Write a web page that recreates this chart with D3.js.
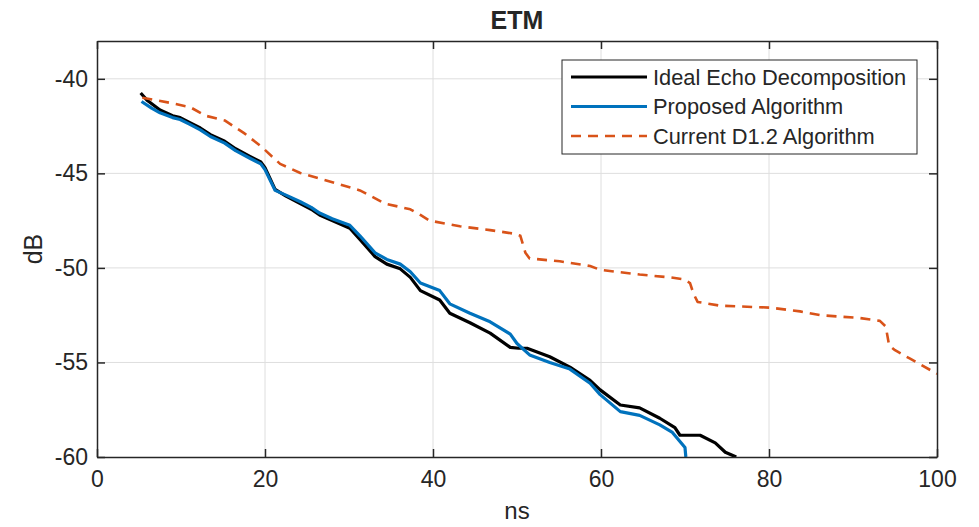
<!DOCTYPE html>
<html>
<head>
<meta charset="utf-8">
<script src="https://cdn.jsdelivr.net/npm/d3@7"></script>
<style>
  body { margin: 0; background: #fff; }
  text { font-family: "Liberation Sans", Arial, sans-serif; fill: #262626; }
</style>
</head>
<body>
<svg id="chart" width="979" height="527"></svg>
<script>
  // Data
  const idealNs = [5.2, 6.0, 7.5, 9.0, 9.9, 11.0, 12.3, 13.5, 15.2, 16.5, 18.2, 19.5, 20.0, 21.2, 22.5, 24.2, 25.5, 26.5, 28.0, 30.1, 31.3, 33.1, 34.5, 36.1, 37.3, 38.5, 40.8, 42.0, 44.4, 46.8, 49.2, 50.2, 51.2, 53.9, 56.3, 58.7, 59.9, 62.3, 64.6, 67.0, 68.8, 69.4, 71.8, 73.6, 74.8, 76.1];
  const idealDb = [-40.75, -41.15, -41.65, -41.95, -42.05, -42.3, -42.6, -42.95, -43.3, -43.7, -44.1, -44.4, -44.7, -45.85, -46.2, -46.6, -46.9, -47.2, -47.5, -47.9, -48.5, -49.4, -49.8, -50.05, -50.5, -51.2, -51.7, -52.4, -52.9, -53.45, -54.2, -54.25, -54.25, -54.7, -55.25, -55.95, -56.45, -57.25, -57.4, -57.95, -58.45, -58.85, -58.85, -59.25, -59.75, -60.0];

  const proposedNs = [5.3, 6.5, 7.5, 9.0, 9.9, 11.0, 12.3, 13.5, 15.2, 16.5, 18.2, 19.5, 20.0, 21.2, 22.5, 24.2, 25.5, 26.5, 28.0, 30.1, 31.3, 33.1, 34.5, 36.1, 37.3, 38.5, 40.8, 42.0, 44.4, 46.8, 49.2, 50.0, 51.5, 53.9, 56.3, 58.7, 59.9, 62.3, 64.6, 67.0, 68.5, 70.0, 70.1];
  const proposedDb = [-41.2, -41.55, -41.8, -42.05, -42.15, -42.4, -42.7, -43.05, -43.4, -43.8, -44.2, -44.5, -44.8, -45.9, -46.15, -46.5, -46.8, -47.1, -47.4, -47.75, -48.3, -49.2, -49.55, -49.8, -50.2, -50.8, -51.2, -51.9, -52.4, -52.85, -53.5, -54.0, -54.6, -55.0, -55.35, -56.1, -56.7, -57.6, -57.8, -58.3, -58.7, -59.5, -60.0];

  const currentNs = [5.4, 8.7, 11.1, 12.9, 15.2, 17.6, 19.6, 21.8, 24.2, 27.5, 31.3, 34.3, 37.3, 38.5, 39.6, 43.2, 46.8, 49.8, 50.4, 51.0, 51.5, 55.1, 58.7, 59.9, 64.6, 68.2, 69.8, 70.6, 71.0, 71.5, 74.2, 80.1, 83.7, 86.1, 90.8, 93.2, 93.9, 94.3, 95.0, 96.8, 100];
  const currentDb = [-41.0, -41.27, -41.5, -41.95, -42.2, -42.9, -43.6, -44.5, -44.98, -45.4, -45.9, -46.6, -46.9, -47.2, -47.5, -47.8, -48.0, -48.2, -48.3, -49.2, -49.5, -49.65, -49.9, -50.1, -50.35, -50.5, -50.6, -50.8, -51.35, -51.8, -52.0, -52.1, -52.3, -52.5, -52.65, -52.8, -53.1, -54.1, -54.35, -54.8, -55.6];

  const xTicks = [0, 20, 40, 60, 80, 100];
  const yTicks = [-60, -55, -50, -45, -40];

  const series = [
    { name: "Ideal Echo Decomposition", ns: idealNs, db: idealDb, color: "#000000", width: 3.2, dash: null },
    { name: "Proposed Algorithm", ns: proposedNs, db: proposedDb, color: "#0072BD", width: 3.2, dash: null },
    { name: "Current D1.2 Algorithm", ns: currentNs, db: currentDb, color: "#D95319", width: 2.6, dash: "10,7" }
  ];

  const width = 979;
  const height = 527;
  const marginTop = 41;
  const marginRight = 42;
  const marginBottom = 70;
  const marginLeft = 97;

  const x = d3.scaleLinear().domain([0, 100]).range([marginLeft, width - marginRight]);
  const y = d3.scaleLinear().domain([-60, -38]).range([height - marginBottom, marginTop]);

  const svg = d3.select("#chart");

  svg.append("defs").append("clipPath").attr("id", "plot-clip")
    .append("rect")
    .attr("x", marginLeft).attr("y", marginTop)
    .attr("width", width - marginLeft - marginRight)
    .attr("height", height - marginTop - marginBottom);

  // Grid
  svg.append("g")
    .selectAll("line")
    .data(xTicks.slice(1, -1))
    .join("line")
    .attr("x1", (d) => x(d)).attr("x2", (d) => x(d))
    .attr("y1", marginTop).attr("y2", height - marginBottom)
    .attr("stroke", "#dedede").attr("stroke-width", 1);

  svg.append("g")
    .selectAll("line")
    .data(yTicks.slice(1))
    .join("line")
    .attr("x1", marginLeft).attr("x2", width - marginRight)
    .attr("y1", (d) => y(d)).attr("y2", (d) => y(d))
    .attr("stroke", "#dedede").attr("stroke-width", 1);

  // Lines
  const line = d3.line().x((d) => x(d[0])).y((d) => y(d[1]));

  const plot = svg.append("g").attr("clip-path", "url(#plot-clip)");
  series.forEach((s) => {
    plot.append("path")
      .datum(s.ns.map((v, i) => [v, s.db[i]]))
      .attr("fill", "none")
      .attr("stroke", s.color)
      .attr("stroke-width", s.width)
      .attr("stroke-linejoin", "round")
      .attr("stroke-dasharray", s.dash)
      .attr("d", line);
  });

  // Axes (ticks inside, box on)
  const styleAxis = (g) => {
    g.select(".domain").attr("stroke", "#262626").attr("stroke-width", 1.5);
    g.selectAll(".tick line").attr("stroke", "#262626").attr("stroke-width", 1.5);
    g.selectAll(".tick text").attr("fill", "#262626")
      .style("font-family", "'Liberation Sans', Arial, sans-serif")
      .style("font-size", "23px");
  };

  const fmt = (d) => String(d); // plain hyphen minus, like the reference

  svg.append("g")
    .attr("transform", `translate(0,${height - marginBottom})`)
    .call(d3.axisBottom(x).tickValues(xTicks).tickFormat(fmt).tickSizeInner(-8).tickSizeOuter(0).tickPadding(14))
    .call(styleAxis);

  svg.append("g")
    .attr("transform", `translate(0,${marginTop})`)
    .call(d3.axisTop(x).tickValues(xTicks).tickSizeInner(-8).tickSizeOuter(0).tickFormat(""))
    .call(styleAxis);

  svg.append("g")
    .attr("transform", `translate(${marginLeft},0)`)
    .call(d3.axisLeft(y).tickValues(yTicks).tickFormat(fmt).tickSizeInner(-8).tickSizeOuter(0).tickPadding(9))
    .call(styleAxis);

  svg.append("g")
    .attr("transform", `translate(${width - marginRight},0)`)
    .call(d3.axisRight(y).tickValues(yTicks).tickSizeInner(-8).tickSizeOuter(0).tickFormat(""))
    .call(styleAxis);

  // Title and labels
  svg.append("text")
    .attr("x", (marginLeft + width - marginRight) / 2).attr("y", 29)
    .attr("text-anchor", "middle")
    .style("font-size", "25px").style("font-weight", "bold")
    .attr("fill", "#000")
    .text("ETM");

  svg.append("text")
    .attr("x", (marginLeft + width - marginRight) / 2).attr("y", 519)
    .attr("text-anchor", "middle")
    .style("font-size", "24px")
    .text("ns");

  svg.append("text")
    .attr("transform", `translate(42,249) rotate(-90)`)
    .attr("text-anchor", "middle")
    .style("font-size", "25px")
    .text("dB");

  // Legend
  const legend = svg.append("g").attr("transform", "translate(562,60)");
  legend.append("rect")
    .attr("width", 355).attr("height", 94)
    .attr("fill", "#fff").attr("stroke", "#262626").attr("stroke-width", 1);

  const rows = legend.selectAll("g.row")
    .data(series)
    .join("g")
    .attr("class", "row")
    .attr("transform", (d, i) => `translate(0,${17 + i * 29.5})`);

  rows.append("line")
    .attr("x1", 9).attr("x2", 85)
    .attr("stroke", (d) => d.color)
    .attr("stroke-width", (d) => d.width)
    .attr("stroke-dasharray", (d) => d.dash);

  rows.append("text")
    .attr("x", 91).attr("dy", "0.36em")
    .style("font-size", "21.8px")
    .attr("fill", "#000")
    .text((d) => d.name);
</script>
</body>
</html>
